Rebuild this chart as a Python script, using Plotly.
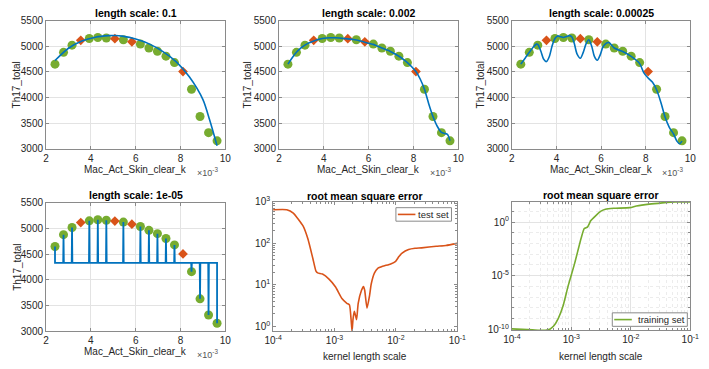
import plotly.graph_objects as go

# ---------------- data (x in units of 1e-3) ----------------
train_x = [2.40, 2.78, 3.16, 3.93, 4.31, 4.69, 5.45, 6.21, 6.59, 6.97, 7.35, 7.73, 8.49, 8.87, 9.25, 9.63]
train_y = [4650, 4880, 5020, 5150, 5170, 5160, 5125, 5040, 4965, 4900, 4805, 4680, 4160, 3630, 3315, 3155]
test_x = [3.55, 5.07, 5.83, 8.11]
test_y = [5115, 5145, 5085, 4505]

fit_01_x = [2.40, 3.00, 3.60, 4.20, 4.80, 5.10, 5.40, 6.00, 6.60, 7.20, 7.80, 8.40, 9.00, 9.30, 9.63]
fit_01_y = [4720, 4960, 5100, 5175, 5205, 5208, 5195, 5140, 5045, 4900, 4700, 4400, 3960, 3560, 3060]

fit_002_x = [2.40, 2.60, 2.78, 2.97, 3.16, 3.35, 3.55, 3.74, 3.93, 4.12, 4.31, 4.50, 4.69, 4.88, 5.07,
             5.26, 5.45, 5.64, 5.83, 6.02, 6.21, 6.40, 6.59, 6.78, 6.97, 7.16, 7.35, 7.54, 7.73, 7.92,
             8.11, 8.30, 8.49, 8.68, 8.87, 9.06, 9.25, 9.40, 9.52, 9.63]
fit_002_y = [4650, 4780, 4880, 4960, 5020, 5065, 5100, 5130, 5150, 5160, 5165, 5163, 5158, 5150, 5142,
             5132, 5120, 5100, 5078, 5055, 5035, 5000, 4965, 4932, 4898, 4852, 4803, 4745, 4680, 4600,
             4505, 4360, 4160, 3880, 3630, 3440, 3320, 3300, 3280, 3160]

fit_00025_x = [2.40, 2.60, 2.78, 2.97, 3.10, 3.16, 3.30, 3.42, 3.55, 3.68, 3.80, 3.93, 4.05, 4.15, 4.31,
               4.45, 4.58, 4.69, 4.80, 4.92, 5.07, 5.20, 5.33, 5.45, 5.58, 5.70, 5.83, 5.96, 6.08, 6.21,
               6.35, 6.59, 6.97, 7.35, 7.73, 7.92, 8.11, 8.30, 8.49, 8.70, 8.87, 9.06, 9.25, 9.40, 9.52, 9.63]
fit_00025_y = [4650, 4770, 4880, 4990, 5040, 5035, 4900, 4750, 4700, 4800, 5000, 5150, 5200, 5190, 5168,
               5190, 5205, 5180, 5050, 4850, 4765, 4880, 5050, 5125, 5000, 4800, 4725, 4830, 4980, 5050,
               5070, 4965, 4895, 4800, 4660, 4480, 4380, 4300, 4150, 3880, 3620, 3420, 3290, 3150, 3100, 3150]

fit_1e5_baseline = 4330
fit_1e5_halfwidth = 0.015

rmse_test_ls = [1.00e-4, 1.67e-4, 2.13e-4, 3.07e-4, 3.68e-4, 4.43e-4, 4.99e-4, 5.31e-4, 6.37e-4, 8.13e-4,
                1.04e-3, 1.32e-3, 1.59e-3, 1.75e-3, 1.86e-3, 1.93e-3, 2.00e-3, 2.10e-3, 2.21e-3, 2.29e-3,
                2.43e-3, 2.75e-3, 2.96e-3, 3.10e-3, 3.38e-3, 3.72e-3, 3.96e-3, 4.48e-3, 5.06e-3, 6.07e-3,
                8.22e-3, 9.89e-3, 1.12e-2, 1.26e-2, 1.61e-2, 2.05e-2, 2.62e-2, 4.53e-2, 6.53e-2, 1.00e-1]
rmse_test = [646, 646, 537, 263, 129, 43.7, 21.4, 19.5, 18.2, 13.8,
             8.9, 4.7, 3.6, 3.3, 1.48, 0.76, 1.48, 2.3, 1.77, 1.45,
             3.6, 7.4, 9.1, 7.4, 2.75, 5.5, 10.5, 19.5, 25, 28,
             32, 37, 48, 58, 71, 76, 78, 85, 89, 100]

rmse_train_ls = [1.00e-4, 2.21e-4, 3.66e-4, 4.41e-4, 5.00e-4, 6.04e-4, 7.29e-4, 8.81e-4, 1.13e-3, 1.46e-3,
                 1.65e-3, 1.88e-3, 2.13e-3, 2.57e-3, 3.10e-3, 3.75e-3, 5.13e-3, 9.64e-3, 1.24e-2, 2.05e-2,
                 3.39e-2, 5.61e-2, 1.00e-1]
rmse_train = [1.07e-10, 8.7e-11, 7.9e-11, 1.07e-10, 1.86e-10, 1.05e-9, 1.66e-8, 1.05e-6, 1.26e-4, 3.16e-2,
              0.251, 0.355, 1.41, 3.98, 10, 15.8, 19.5, 22.4, 31.6, 47.9,
              63, 77.6, 77.6]

titles = ["length scale: 0.1", "length scale: 0.002", "length scale: 0.00025", "length scale: 1e-05",
          "root mean square error", "root mean square error"]
legend_names = ["test set", "training set"]
x_ticks = [2, 4, 6, 8, 10]
y_ticks = [3000, 3500, 4000, 4500, 5000, 5500]

# ---------------- styling ----------------
W, H = 709, 369
BLUE, RED, GREEN = "#0072BD", "#D95319", "#77AC30"
FONT = "Liberation Sans, Arial, Helvetica, sans-serif"
TXT = "#262626"
GRID = "#e3e3e3"
LINE = "#8a8a8a"


def px(x):
    return x / W


def py(y):
    return 1 - y / H


frames = [(38, 222, 14, 147), (277, 461, 14, 147), (516, 699, 14, 147),
          (38, 222, 203, 336), (271, 460, 202, 336), (516, 699, 202, 335)]

fig = go.Figure()

fits = [(fit_01_x, fit_01_y), (fit_002_x, fit_002_y), (fit_00025_x, fit_00025_y)]

# 1e-05 fit: spikes to the training points from the baseline
sp_x, sp_y = [train_x[0]], [train_y[0]]
sp_x.append(train_x[0]); sp_y.append(fit_1e5_baseline)
for xv, yv in zip(train_x[1:-1], train_y[1:-1]):
    sp_x += [xv - fit_1e5_halfwidth, xv, xv + fit_1e5_halfwidth]
    sp_y += [fit_1e5_baseline, yv, fit_1e5_baseline]
sp_x += [train_x[-1], train_x[-1]]
sp_y += [fit_1e5_baseline, train_y[-1]]

for i in range(4):
    ax = "" if i == 0 else str(i + 1)
    fig.add_trace(go.Scatter(x=train_x, y=train_y, mode="markers", xaxis="x" + ax, yaxis="y" + ax,
                             marker=dict(color=GREEN, size=9, symbol="circle"), showlegend=False))
    fig.add_trace(go.Scatter(x=test_x, y=test_y, mode="markers", xaxis="x" + ax, yaxis="y" + ax,
                             marker=dict(color=RED, size=7.5, symbol="diamond"), showlegend=False))
    if i < 3:
        fx, fy = fits[i]
        fig.add_trace(go.Scatter(x=fx, y=fy, mode="lines", xaxis="x" + ax, yaxis="y" + ax,
                                 line=dict(color=BLUE, width=1.6, shape="spline", smoothing=0.8),
                                 showlegend=False))
    else:
        fig.add_trace(go.Scatter(x=sp_x, y=sp_y, mode="lines", xaxis="x" + ax, yaxis="y" + ax,
                                 line=dict(color=BLUE, width=1.8), showlegend=False))

fig.add_trace(go.Scatter(x=rmse_test_ls, y=rmse_test, mode="lines", xaxis="x5", yaxis="y5",
                         name=legend_names[0], showlegend=False,
                         line=dict(color=RED, width=1.6, shape="spline", smoothing=0.5)))
fig.add_trace(go.Scatter(x=rmse_train_ls, y=rmse_train, mode="lines", xaxis="x6", yaxis="y6",
                         name=legend_names[1], showlegend=False,
                         line=dict(color=GREEN, width=1.6, shape="spline", smoothing=0.5)))

tickfont = dict(family=FONT, size=10, color=TXT)
common = dict(showline=True, linecolor=LINE, linewidth=1, mirror="ticks", ticks="inside", ticklen=3,
              tickcolor=LINE, tickfont=tickfont, zeroline=False, fixedrange=True,
              ticklabeloverflow="allow")

layout = {}
for i, (l, r, t, b) in enumerate(frames):
    n = "" if i == 0 else str(i + 1)
    xd = dict(domain=[px(l), px(r)], anchor="y" + n, **common)
    yd = dict(domain=[py(b), py(t)], anchor="x" + n, **common)
    if i < 4:
        xd.update(range=[2, 10], tickvals=x_ticks, ticktext=[str(v) for v in x_ticks],
                  showgrid=True, gridcolor=GRID)
        yd.update(range=[3000, 5500], tickvals=y_ticks, ticktext=[str(v) for v in y_ticks],
                  showgrid=True, gridcolor=GRID)
    else:
        xv = [1e-4, 1e-3, 1e-2, 1e-1]
        xd.update(type="log", range=[-4, -1], tickvals=xv,
                  ticktext=["10<sup>-4</sup>", "10<sup>-3</sup>", "10<sup>-2</sup>", "10<sup>-1</sup>"])
        minor_x = [m * 10 ** e for e in (-4, -3, -2) for m in range(2, 10)]
        if i == 4:
            yv = [1, 10, 100, 1000]
            yd.update(type="log", range=[-0.116, 3], tickvals=yv,
                      ticktext=["10<sup>0</sup>", "10<sup>1</sup>", "10<sup>2</sup>", "10<sup>3</sup>"],
                      showgrid=False,
                      minor=dict(tickvals=[m * 10 ** e for e in (0, 1, 2) for m in range(2, 10)],
                                 ticks="inside", ticklen=2, tickcolor=LINE, showgrid=False))
            xd.update(showgrid=False,
                      minor=dict(tickvals=minor_x, ticks="inside", ticklen=2, tickcolor=LINE, showgrid=False))
        else:
            yv = [1e-10, 1e-5, 1]
            yd.update(type="log", range=[-10.09, 1.89], tickvals=yv,
                      ticktext=["10<sup>-10</sup>", "10<sup>-5</sup>", "10<sup>0</sup>"],
                      showgrid=True, gridcolor=GRID,
                      minor=dict(tickvals=[10.0 ** e for e in range(-9, 2) if e not in (-5, 0)],
                                 ticks="inside", ticklen=2, tickcolor=LINE,
                                 showgrid=True, gridcolor="#ececec", griddash="dot"))
            xd.update(showgrid=True, gridcolor=GRID,
                      minor=dict(tickvals=minor_x, ticks="inside", ticklen=2, tickcolor=LINE,
                                 showgrid=True, gridcolor="#ececec", griddash="dot"))
    layout["xaxis" + n] = xd
    layout["yaxis" + n] = yd

annots = []
title_y = [6, 6, 6, 195, 196, 195]
for i, (l, r, t, b) in enumerate(frames):
    annots.append(dict(text="<b>" + titles[i] + "</b>", x=px((l + r) / 2), y=py(title_y[i]),
                       xref="paper", yref="paper", showarrow=False, xanchor="center", yanchor="middle",
                       font=dict(family=FONT, size=10.5, color="#000")))
# x labels
xl = [(0, 168), (1, 168), (2, 168), (3, 357), (4, 362), (5, 362)]
for i, yy in xl:
    l, r, t, b = frames[i]
    txt = "Mac_Act_Skin_clear_k" if i < 4 else "kernel length scale"
    annots.append(dict(text=txt, x=px((l + r) / 2), y=py(yy), xref="paper", yref="paper",
                       showarrow=False, xanchor="center", yanchor="middle",
                       font=dict(family=FONT, size=10, color=TXT)))
    if i < 4:
        annots.append(dict(text="×10<sup>-3</sup>", x=px(r - 5), y=py(yy + 3), xref="paper", yref="paper",
                           showarrow=False, xanchor="right", yanchor="middle",
                           font=dict(family=FONT, size=9, color="#555")))
# y labels
yl = [(0, 8), (1, 245), (2, 484), (3, 8)]
for i, xx in yl:
    l, r, t, b = frames[i]
    annots.append(dict(text="Th17_total", x=px(xx), y=py((t + b) / 2), xref="paper", yref="paper",
                       showarrow=False, textangle=-90, xanchor="center", yanchor="middle",
                       font=dict(family=FONT, size=10, color=TXT)))

# legends drawn as boxes with a line sample and a label
shapes = []
legend_boxes = [((397, 454, 208, 222), RED, legend_names[0]), ((619, 696, 317, 331), GREEN, legend_names[1])]
for (l, r, t, b), col, name in legend_boxes:
    shapes.append(dict(type="rect", xref="paper", yref="paper", x0=px(l), x1=px(r), y0=py(b), y1=py(t),
                       line=dict(color=LINE, width=1), fillcolor="white", layer="above"))
    ym = (t + b) / 2
    shapes.append(dict(type="line", xref="paper", yref="paper", x0=px(l + 2), x1=px(l + 20), y0=py(ym), y1=py(ym),
                       line=dict(color=col, width=1.6), layer="above"))
    annots.append(dict(text=name, x=px(r - 1), y=py(ym), xref="paper", yref="paper", showarrow=False,
                       xanchor="right", yanchor="middle", borderpad=0,
                       font=dict(family=FONT, size=9.5, color=TXT)))

fig.update_layout(
    width=W, height=H, margin=dict(l=0, r=0, t=0, b=0),
    plot_bgcolor="white", paper_bgcolor="white",
    annotations=annots, shapes=shapes, showlegend=False,
    **layout,
)

fig.write_html("out.html", config={"displayModeBar": False, "staticPlot": True},
               post_script="document.body.style.margin='0';document.body.style.padding='0';"
                           "document.documentElement.style.overflow='hidden';")
